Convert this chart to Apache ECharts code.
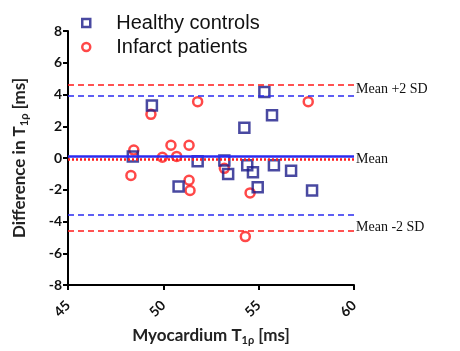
<!DOCTYPE html>
<html>
<head>
<meta charset="utf-8">
<script src="https://cdn.jsdelivr.net/npm/echarts@6/dist/echarts.min.js"></script>
<style>
    html, body { margin: 0; padding: 0; background: #fff; }
    #chart { width: 460px; height: 351px; }
</style>
</head>
<body>
<div id="chart"></div>
<script>
// healthy controls: [myocardium T1rho, difference]
var healthyPoints = [
    [49.4, 3.3], [48.4, 0.1], [50.8, -1.8], [51.8, -0.2], [53.2, -0.15],
    [53.4, -1.0], [54.25, 1.9], [54.4, -0.45], [54.7, -0.9], [54.95, -1.85],
    [55.3, 4.15], [55.7, 2.7], [55.8, -0.45], [56.7, -0.8], [57.8, -2.05]
];
// infarct patients
var infarctPoints = [
    [49.35, 2.75], [51.8, 3.55], [57.6, 3.55], [48.45, 0.5], [48.3, -1.1],
    [49.95, 0.05], [50.4, 0.8], [50.7, 0.1], [51.35, 0.8], [51.35, -1.4],
    [51.4, -2.05], [53.2, -0.65], [54.55, -2.2], [54.3, -4.95]
];
// mean and limits of agreement
var healthyMean = 0.1, healthyUpper = 3.95, healthyLower = -3.6;
var infarctMean = -0.05, infarctUpper = 4.6, infarctLower = -4.6;
var xTicks = [45, 50, 55, 60];
var yTicks = [-8, -6, -4, -2, 0, 2, 4, 6, 8];

var navy = '#1c1c8a';
var blueLine = '#2b2bf0';
var red = '#ff1a1a';
var serif = '"Liberation Serif", "DejaVu Serif", serif';
var sans = '"Liberation Sans", Arial';
var axisFont = 'Lato, "Open Sans", sans-serif';

var myChart = echarts.init(document.getElementById('chart'));

function limitLine(value, color, type, width, labelText, pad) {
    return {
        yAxis: value,
        lineStyle: { color: color, type: type, width: width },
        label: {
            show: !!labelText,
            position: 'end',
            distance: 2,
            formatter: labelText ? '{t|' + labelText + '}' : '',
            rich: {
                t: { color: '#111', fontFamily: serif, fontSize: 14, padding: pad || 0 }
            }
        }
    };
}

var nameRich = {
    b: { fontWeight: 'bold', fontSize: 17, color: '#222', fontFamily: axisFont },
    s: { fontWeight: 'bold', fontSize: 11, color: '#222', fontFamily: axisFont, padding: [9, 0, 0, 0] }
};

var option = {
    animation: false,
    legend: {
        left: 76,
        top: 8,
        orient: 'vertical',
        itemGap: 4,
        itemWidth: 8,
        itemHeight: 8,
        textStyle: { fontFamily: sans, fontSize: 20, color: '#111', padding: [0, 0, 0, 21] },
        data: [
            { name: 'Healthy controls', icon: 'rect', itemStyle: { color: '#fff', borderColor: navy, borderWidth: 2.5 } },
            { name: 'Infarct patients', icon: 'circle', itemStyle: { color: '#fff', borderColor: red, borderWidth: 2.5 } }
        ]
    },
    grid: { left: 68, right: 106, top: 31, bottom: 59 },
    xAxis: {
        type: 'value',
        min: xTicks[0],
        max: xTicks[xTicks.length - 1],
        interval: 5,
        splitLine: { show: false },
        axisLine: { onZero: false, lineStyle: { color: '#000', width: 2 } },
        axisTick: { length: 5, lineStyle: { color: '#000', width: 2 } },
        axisLabel: { rotate: 45, color: '#111', fontWeight: 'bold', fontSize: 14, fontFamily: axisFont, margin: 18 },
        name: '{b|Myocardium T}{s|1ρ}{b| [ms]}',
        nameLocation: 'middle',
        nameGap: 41,
        nameTextStyle: { rich: nameRich }
    },
    yAxis: {
        type: 'value',
        min: yTicks[0],
        max: yTicks[yTicks.length - 1],
        interval: 2,
        splitLine: { show: false },
        axisLine: { onZero: false, lineStyle: { color: '#000', width: 2 } },
        axisTick: { length: 5, lineStyle: { color: '#000', width: 2 } },
        axisLabel: { color: '#111', fontWeight: 'bold', fontSize: 14, fontFamily: axisFont, margin: 6 },
        name: '{b|Difference in T}{s|1ρ}{b| [ms]}',
        nameLocation: 'middle',
        nameGap: 38,
        nameTextStyle: { rich: nameRich }
    },
    series: [
        {
            name: 'Infarct patients',
            type: 'scatter',
            symbol: 'circle',
            symbolSize: 9,
            itemStyle: { color: 'rgba(255,255,255,0)', borderColor: red, borderWidth: 2.5 },
            data: infarctPoints,
            z: 3,
            markLine: {
                silent: true,
                symbol: 'none',
                data: [
                    limitLine(infarctUpper, red, [6, 4], 1.6, 'Mean +2 SD', [8, 0, 0, 0]),
                    limitLine(infarctMean, red, [2, 2], 2.5, null),
                    limitLine(infarctLower, red, [6, 4], 1.6, 'Mean -2 SD', [0, 0, 8, 0])
                ]
            }
        },
        {
            name: 'Healthy controls',
            type: 'scatter',
            symbol: 'rect',
            symbolSize: 10,
            itemStyle: { color: 'rgba(255,255,255,0)', borderColor: navy, borderWidth: 2.5 },
            data: healthyPoints,
            z: 4,
            markLine: {
                silent: true,
                symbol: 'none',
                data: [
                    limitLine(healthyUpper, blueLine, [6, 4], 1.6, null),
                    limitLine(healthyMean, blueLine, 'solid', 2.5, 'Mean', [6, 0, 0, 0]),
                    limitLine(healthyLower, blueLine, [6, 4], 1.6, null)
                ]
            }
        }
    ]
};
myChart.setOption(option);
</script>
</body>
</html>
